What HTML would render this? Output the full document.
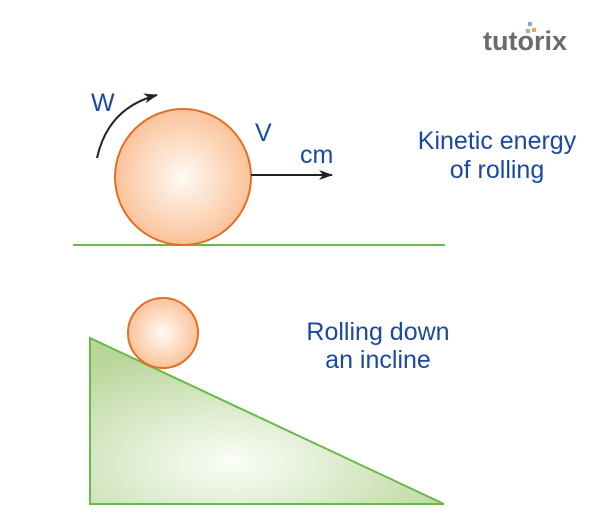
<!DOCTYPE html>
<html><head><style>body{margin:0;background:#fff}svg{display:block}</style></head><body>
<svg width="600" height="526" xmlns="http://www.w3.org/2000/svg" font-family="Liberation Sans, sans-serif">
<defs>
<radialGradient id="o" cx="50%" cy="50%" r="50%"><stop offset="0" stop-color="#fffaf5"/><stop offset="1" stop-color="#fac39a"/></radialGradient>
<radialGradient id="g" cx="0.4" cy="0.75" r="0.7"><stop offset="0" stop-color="#fbfdf8"/><stop offset="1" stop-color="#b9d69a"/></radialGradient>
<marker id="a" markerWidth="14" markerHeight="10" refX="13" refY="5" orient="auto" markerUnits="userSpaceOnUse"><path d="M0,0 L14,5 L0,10 L4,5z" fill="#222"/></marker>
</defs>
<text x="483" y="50" font-size="27" font-weight="bold" fill="#6b6b6b">tutorix</text>
<rect x="528" y="22" width="4" height="4" fill="#8fa6e0"/><rect x="532" y="28" width="4" height="4" fill="#f0a860"/><rect x="526" y="29" width="4" height="4" fill="#8cc870"/>
<line x1="73" y1="245" x2="445" y2="245" stroke="#6ab84a" stroke-width="2"/>
<circle cx="183" cy="177" r="68" fill="url(#o)" stroke="#e07028" stroke-width="2"/>
<line x1="251" y1="175" x2="332" y2="175" stroke="#222" stroke-width="2" marker-end="url(#a)"/>
<path d="M97,158 Q108,108 157,95" fill="none" stroke="#222" stroke-width="2" marker-end="url(#a)"/>
<g fill="#1a4aa0" font-size="25">
<text x="91" y="111">W</text>
<text x="255" y="141">V</text>
<text x="300" y="163">cm</text>
<text x="497" y="149" text-anchor="middle">Kinetic energy</text>
<text x="497" y="178" text-anchor="middle">of rolling</text>
<text x="378" y="340" text-anchor="middle">Rolling down</text>
<text x="378" y="368" text-anchor="middle">an incline</text>
</g>
<polygon points="90,338 90,504 444,504" fill="url(#g)" stroke="#6ab84a" stroke-width="2"/>
<circle cx="163" cy="333" r="35" fill="url(#o)" stroke="#e07028" stroke-width="2"/>
</svg>
</body></html>
